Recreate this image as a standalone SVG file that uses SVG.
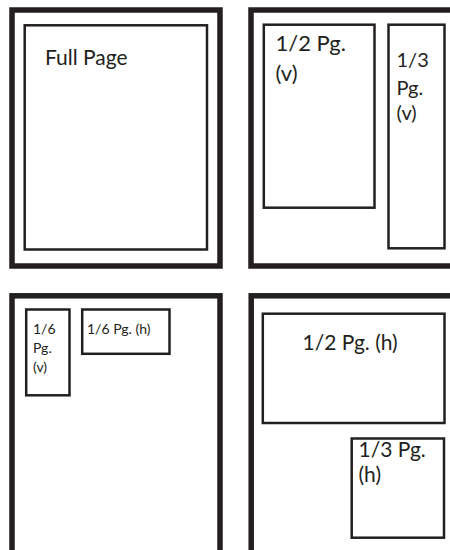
<svg xmlns="http://www.w3.org/2000/svg" width="450" height="550" viewBox="0 0 450 550">
<style>
.outer{fill:#fff;stroke:#231f20;stroke-width:5.5}
.inner{fill:#fff;stroke:#231f20;stroke-width:2.5}
text{font-family:Lato,"Open Sans","Liberation Sans",sans-serif;fill:#231f20}
</style>
<rect width="450" height="550" fill="#fff"/>
<g id="panel-full">
<rect class="outer" x="12" y="10" width="208" height="256"/>
<rect class="inner" x="24.7" y="25.3" width="182.3" height="224.2"/>
<text x="45" y="65" font-size="21">Full Page</text>
</g>
<g id="panel-vertical">
<rect class="outer" x="251" y="10" width="250" height="256"/>
<g id="half-v">
<rect class="inner" x="263.8" y="24.7" width="110.7" height="183"/>
<text font-size="22"><tspan x="275.5" y="51">1/2 Pg.</tspan><tspan x="275.5" y="81">(v)</tspan></text>
</g>
<g id="third-v">
<rect class="inner" x="388.5" y="24.7" width="56" height="223.6"/>
<text font-size="20"><tspan x="396.5" y="67">1/3</tspan><tspan x="396.5" y="95">Pg.</tspan><tspan x="396.5" y="120">(v)</tspan></text>
</g>
</g>
<g id="panel-sixth">
<rect class="outer" x="12" y="295.8" width="208" height="260"/>
<g id="sixth-v">
<rect class="inner" x="26.2" y="309.5" width="43.3" height="85.8"/>
<text font-size="14"><tspan x="33" y="334.3">1/6</tspan><tspan x="33" y="353.3">Pg.</tspan><tspan x="33" y="372.3">(v)</tspan></text>
</g>
<g id="sixth-h">
<rect class="inner" x="82.2" y="309.5" width="87.3" height="44.3"/>
<text x="87" y="334.3" font-size="14">1/6 Pg. (h)</text>
</g>
</g>
<g id="panel-horizontal">
<rect class="outer" x="251.2" y="295.8" width="250" height="260"/>
<g id="half-h">
<rect class="inner" x="262.8" y="313.7" width="181.7" height="109.3"/>
<text x="302.5" y="350" font-size="21">1/2 Pg. (h)</text>
</g>
<g id="third-h">
<rect class="inner" x="351.7" y="438.5" width="92.3" height="99.2"/>
<text font-size="21"><tspan x="358.5" y="457">1/3 Pg.</tspan><tspan x="358.5" y="482">(h)</tspan></text>
</g>
</g>
</svg>
